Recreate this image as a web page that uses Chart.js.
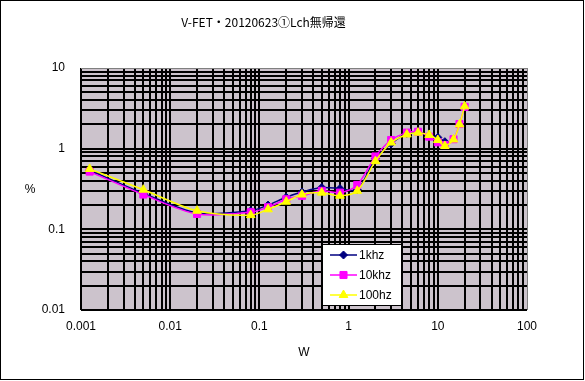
<!DOCTYPE html>
<html>
<head>
<meta charset="utf-8">
<script src="https://cdn.jsdelivr.net/npm/chart.js@4/dist/chart.umd.min.js"></script>
<style>
  body { margin: 0; background: #fff; }
  #wrap { width: 585px; height: 381px; }
</style>
</head>
<body>
<div id="wrap"><canvas id="myChart" width="585" height="381"></canvas></div>
<script>
// data (W vs distortion %)
const watts = [0.00125, 0.005, 0.02, 0.08, 0.125, 0.2, 0.3, 0.5, 0.8, 1.25, 2, 3, 4.5, 6, 8, 10, 12, 15, 17.5, 20];
const seriesNames = ["1khz", "10khz", "100hz"];
const values1k = [0.54, 0.28, 0.16, 0.17, 0.2, 0.25, 0.29, 0.33, 0.32, 0.31, 0.75, 1.15, 1.55, 1.6, 1.45, 1.38, 1.22];
const values10k = [0.52, 0.27, 0.155, 0.163, 0.188, 0.236, 0.26, 0.3, 0.285, 0.355, 0.8, 1.28, 1.58, 1.62, 1.41, 1.2, 1.11, 1.31, 2.02, 3.3];
const values100 = [0.56, 0.31, 0.17, 0.15, 0.177, 0.22, 0.27, 0.285, 0.261, 0.3, 0.7, 1.19, 1.5, 1.58, 1.48, 1.28, 1.08, 1.3, 2.0, 3.35];

const xDecades = [0.001, 0.01, 0.1, 1, 10, 100];
const xTickLabels = ["0.001", "0.01", "0.1", "1", "10", "100"];
const yDecades = [0.01, 0.1, 1, 10];
const yTickLabels = ["0.01", "0.1", "1", "10"];
const minorSteps = [1, 2, 3, 4, 5, 6, 7, 8, 9];

const titleText = "V-FET・20120623①Lch無帰還";
const xTitle = "W";
const yTitle = "%";

function buildTicks(decades){
    const ticks = [];
    for (let i = 0; i < decades.length - 1; i++) {
        minorSteps.forEach(m => ticks.push({ value: decades[i] * m }));
    }
    ticks.push({ value: decades[decades.length - 1] });
    return ticks;
}

function decadeLabel(value, decades, labels){
    const idx = decades.findIndex(d => Math.abs(d - value) / d < 1e-6);
    return idx >= 0 ? labels[idx] : "";
}

function toPoints(values){
    return values.map((v, i) => ({ x: watts[i], y: v }));
}

function edgeColor(ctx, max){
    return Math.abs(ctx.tick.value - max) / max < 1e-6 ? "#808080" : "#000";
}
function edgeWidth(ctx, max){
    return Math.abs(ctx.tick.value - max) / max < 1e-6 ? 1 : 2;
}

const plotBackground = {
    id: "plotBackground",
    beforeDraw(chart){
        const { ctx, chartArea: a } = chart;
        ctx.save();
        ctx.fillStyle = "#fff";
        ctx.fillRect(0, 0, chart.width, chart.height);
        ctx.fillStyle = "#ccc3cc";
        ctx.fillRect(a.left, a.top, a.right - a.left, a.bottom - a.top);
        ctx.restore();
    }
};

const extras = {
    id: "extras",
    afterDraw(chart){
        const ctx = chart.ctx;
        ctx.save();
        // y title, not rotated
        ctx.fillStyle = "#000";
        ctx.font = "12px 'Liberation Sans', Arial, sans-serif";
        ctx.textAlign = "center";
        ctx.textBaseline = "middle";
        ctx.fillText(yTitle, 30, 190);

        // legend box
        ctx.fillStyle = "#fff";
        ctx.fillRect(322, 244, 79, 61);
        ctx.strokeStyle = "#000";
        ctx.lineWidth = 1;
        ctx.strokeRect(322.5, 244.5, 79, 61);
        chart.data.datasets.forEach((ds, i) => {
            const y = 255 + i * 20;
            ctx.strokeStyle = ds.borderColor;
            ctx.lineWidth = 1.5;
            ctx.beginPath();
            ctx.moveTo(330, y);
            ctx.lineTo(357, y);
            ctx.stroke();
            ctx.fillStyle = ds.pointBackgroundColor;
            ctx.strokeStyle = ds.pointBorderColor;
            ctx.lineWidth = 1;
            Chart.helpers.drawPoint(ctx, { pointStyle: ds.pointStyle, radius: ds.pointRadius, borderWidth: 1, rotation: 0 }, 343.5, y);
            ctx.fillStyle = "#000";
            ctx.font = "12px 'Liberation Sans', Arial, sans-serif";
            ctx.textAlign = "left";
            ctx.fillText(ds.label, 359, y + 1);
        });

        // outer frame
        ctx.strokeStyle = "#000";
        ctx.lineWidth = 1;
        ctx.strokeRect(0.5, 0.5, 583, 379);
        ctx.restore();
    }
};

function makeDataset(label, values, color, style, radius, order){
    return {
        label: label,
        data: toPoints(values),
        borderColor: color,
        backgroundColor: color,
        pointBackgroundColor: color,
        pointBorderColor: color,
        pointStyle: style,
        pointRadius: radius,
        pointBorderWidth: 1,
        borderWidth: 1.5,
        tension: 0.3,
        showLine: true,
        order: order
    };
}

const chart = new Chart("myChart", {
    type: "scatter",
    data: {
        datasets: [
            makeDataset(seriesNames[0], values1k, "#000080", "rectRot", 4, 3),
            makeDataset(seriesNames[1], values10k, "#ff00ff", "rect", 5, 2),
            makeDataset(seriesNames[2], values100, "#ffff00", "triangle", 5, 1)
        ]
    },
    options: {
        responsive: false,
        animation: false,
        layout: { padding: { top: 0, left: 0, right: 58, bottom: 0 } },
        plugins: {
            legend: { display: false },
            tooltip: { enabled: false },
            title: {
                display: true,
                text: titleText,
                color: "#000",
                font: { family: "'Noto Sans CJK JP', sans-serif", size: 12, weight: "normal" },
                padding: { top: 15, bottom: 38.6 }
            }
        },
        scales: {
            x: {
                type: "logarithmic",
                min: 0.001,
                max: 100,
                afterBuildTicks: scale => { scale.ticks = buildTicks(xDecades); },
                afterFit: scale => { scale.height = 71; },
                ticks: {
                    autoSkip: false,
                    maxRotation: 0,
                    padding: 9,
                    color: "#000",
                    font: { family: "'Liberation Sans', Arial, sans-serif", size: 12 },
                    callback: value => decadeLabel(value, xDecades, xTickLabels)
                },
                grid: {
                    drawTicks: false,
                    color: ctx => edgeColor(ctx, 100),
                    lineWidth: ctx => edgeWidth(ctx, 100)
                },
                border: { display: false },
                title: {
                    display: true,
                    text: xTitle,
                    color: "#000",
                    font: { family: "'Liberation Sans', Arial, sans-serif", size: 12 },
                    padding: { top: 0, bottom: 21 }
                }
            },
            y: {
                type: "logarithmic",
                min: 0.01,
                max: 10,
                afterBuildTicks: scale => { scale.ticks = buildTicks(yDecades); },
                afterFit: scale => { scale.width = 81; },
                ticks: {
                    autoSkip: false,
                    padding: 16,
                    color: "#000",
                    font: { family: "'Liberation Sans', Arial, sans-serif", size: 12 },
                    callback: value => decadeLabel(value, yDecades, yTickLabels)
                },
                grid: {
                    drawTicks: false,
                    color: ctx => edgeColor(ctx, 10),
                    lineWidth: ctx => edgeWidth(ctx, 10)
                },
                border: { display: false }
            }
        }
    },
    plugins: [plotBackground, extras]
});
</script>
</body>
</html>
